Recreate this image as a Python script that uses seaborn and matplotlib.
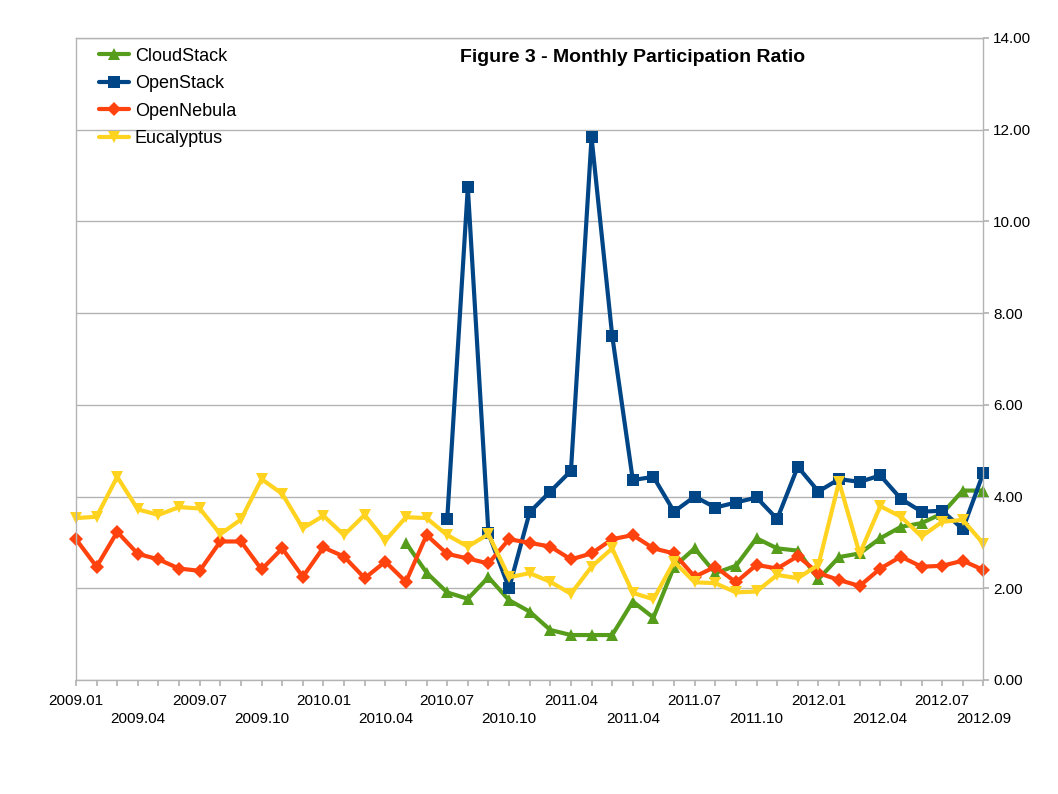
import numpy as np
import pandas as pd
import seaborn as sns
import matplotlib.pyplot as plt

# 45 monthly points, 2009.01 .. 2012.09
n_months = 45
tick_idx = [0, 3, 6, 9, 12, 15, 18, 21, 24, 27, 30, 33, 36, 39, 42, 44]
tick_text = ["2009.01", "2009.04", "2009.07", "2009.10", "2010.01", "2010.04",
             "2010.07", "2010.10", "2011.04", "2011.04", "2011.07", "2011.10",
             "2012.01", "2012.04", "2012.07", "2012.09"]

# CloudStack starts at month 16, OpenStack at month 18
cloudstack_start = 16
cloudstack = [2.99, 2.34, 1.91, 1.77, 2.24, 1.74, 1.49, 1.09, 0.98, 0.98,
              0.98, 1.71, 1.36, 2.47, 2.87, 2.33, 2.49, 3.09, 2.87, 2.82,
              2.20, 2.68, 2.76, 3.09, 3.34, 3.42, 3.63, 4.13, 4.13]
openstack_start = 18
openstack = [3.50, 10.74, 3.20, 2.00, 3.66, 4.11, 4.56, 11.83, 7.51, 4.36,
             4.43, 3.67, 4.00, 3.76, 3.87, 3.98, 3.51, 4.65, 4.11, 4.38,
             4.32, 4.46, 3.95, 3.67, 3.69, 3.29, 4.52]
opennebula = [3.07, 2.47, 3.23, 2.75, 2.63, 2.43, 2.38, 3.02, 3.02, 2.41,
              2.87, 2.25, 2.89, 2.69, 2.22, 2.58, 2.14, 3.16, 2.75, 2.65,
              2.54, 3.07, 2.99, 2.91, 2.63, 2.76, 3.07, 3.16, 2.87, 2.76,
              2.25, 2.47, 2.13, 2.51, 2.43, 2.70, 2.33, 2.18, 2.05, 2.43,
              2.69, 2.47, 2.49, 2.60, 2.40]
eucalyptus = [3.53, 3.56, 4.43, 3.72, 3.60, 3.77, 3.74, 3.18, 3.50, 4.38,
              4.06, 3.31, 3.58, 3.16, 3.60, 3.04, 3.55, 3.53, 3.16, 2.91,
              3.18, 2.24, 2.33, 2.14, 1.88, 2.47, 2.87, 1.90, 1.76, 2.58,
              2.13, 2.11, 1.91, 1.93, 2.29, 2.22, 2.51, 4.32, 2.75, 3.79,
              3.56, 3.13, 3.45, 3.49, 2.97]

projects = ["CloudStack", "OpenStack", "OpenNebula", "Eucalyptus"]
palette = {"CloudStack": "#579d1c", "OpenStack": "#004586",
           "OpenNebula": "#ff420e", "Eucalyptus": "#ffd320"}
markers = {"CloudStack": "^", "OpenStack": "s",
           "OpenNebula": "D", "Eucalyptus": "v"}

rows = []
for name, vals, start in [("CloudStack", cloudstack, cloudstack_start),
                          ("OpenStack", openstack, openstack_start),
                          ("OpenNebula", opennebula, 0),
                          ("Eucalyptus", eucalyptus, 0)]:
    for i, v in enumerate(vals):
        rows.append({"month": start + i, "ratio": v, "project": name})
df = pd.DataFrame(rows)

sns.set_theme(style="white")
plt.rcParams['font.family'] = ['Liberation Sans', 'DejaVu Sans']

fig = plt.figure(figsize=(10.58, 7.94), dpi=100)
ax = fig.add_axes([0.0718, 0.1436, 0.8577, 0.8086])

sns.lineplot(data=df, x="month", y="ratio", hue="project", style="project",
             hue_order=projects, style_order=projects, palette=palette,
             markers=markers, dashes=False, linewidth=3, markersize=9,
             markeredgewidth=0, ax=ax)
for ln in ax.lines:
    ln.set_clip_on(False)
    if ln.get_marker() == "D":
        ln.set_markersize(7)
    elif ln.get_marker() == "s":
        ln.set_markersize(8)

ax.set_xlim(0, n_months - 1)
ax.set_ylim(0, 14)
ax.set_yticks(np.arange(0, 14.01, 2))
ax.yaxis.set_major_formatter('{x:.2f}')
ax.yaxis.tick_right()
ax.grid(axis='y', color='#b3b3b3', linewidth=1)
ax.set_axisbelow(True)
for sp in ax.spines.values():
    sp.set_color('#b3b3b3')
    sp.set_linewidth(1)

# tick marks on every month; labels staggered on two rows
row1 = {i: t for k, (i, t) in enumerate(zip(tick_idx, tick_text)) if k % 2 == 0}
row2 = {i: t for k, (i, t) in enumerate(zip(tick_idx, tick_text)) if k % 2 == 1}
ax.xaxis.remove_overlapping_locs = False
ax.set_xticks(range(n_months))
ax.set_xticklabels([row1.get(i, "") for i in range(n_months)])
ax.set_xticks(list(row2.keys()), minor=True)
ax.set_xticklabels(list(row2.values()), minor=True)
ax.tick_params(axis='x', which='major', bottom=True, length=4, color='#b3b3b3',
               direction='out', pad=6, labelsize=11, labelcolor='black')
ax.tick_params(axis='x', which='minor', bottom=True, length=0,
               pad=23, labelsize=11, labelcolor='black')
ax.tick_params(axis='y', right=True, length=4, color='#b3b3b3', direction='out',
               pad=3, labelsize=11, labelcolor='black')
ax.set_xlabel("")
ax.set_ylabel("")

handles, labels = ax.get_legend_handles_labels()
leg = ax.legend(handles, labels, loc='upper left', bbox_to_anchor=(0.025, 0.985),
                frameon=False, fontsize=13, handlelength=1.7, handletextpad=0.3,
                labelspacing=0.58, borderpad=0, borderaxespad=0, labelcolor='black')
for h in leg.legend_handles:
    if h.get_marker() == "D":
        h.set_markersize(7)
    elif h.get_marker() == "s":
        h.set_markersize(8)

ax.text(0.613, 0.969, "Figure 3 - Monthly Participation Ratio", transform=ax.transAxes,
        ha='center', va='center', fontsize=14, fontweight='bold', color='black')

fig.savefig("out.png", dpi=100)
